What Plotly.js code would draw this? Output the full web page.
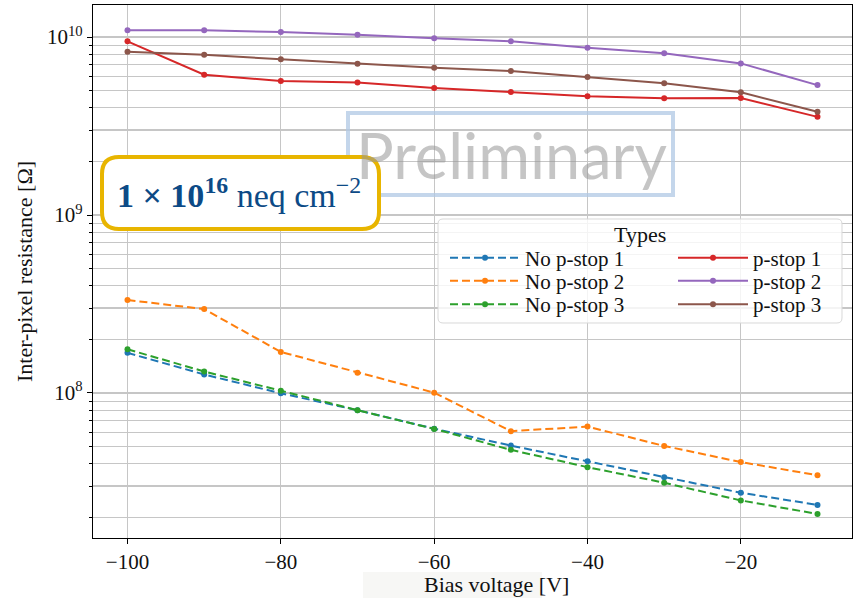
<!DOCTYPE html>
<html>
<head>
<meta charset="utf-8">
<script src="https://cdn.plot.ly/plotly-3.0.1.min.js"></script>
<style>html,body{margin:0;padding:0;background:#fff;}#chart{width:855px;height:598px;}</style>
</head>
<body>
<div id="chart"></div>
<script>
// ---- data ----
const biasVoltage = [-100, -90, -80, -70, -60, -50, -40, -30, -20, -10];
const noPstop1 = [1.68e8, 1.27e8, 9.96e7, 8.0e7, 6.3e7, 5.06e7, 4.13e7, 3.36e7, 2.75e7, 2.35e7];
const noPstop2 = [3.33e8, 2.96e8, 1.70e8, 1.30e8, 1.004e8, 6.1e7, 6.47e7, 5.04e7, 4.09e7, 3.45e7];
const noPstop3 = [1.76e8, 1.32e8, 1.03e8, 8.0e7, 6.28e7, 4.79e7, 3.83e7, 3.13e7, 2.49e7, 2.09e7];
const pstop1 = [9.46e9, 6.14e9, 5.66e9, 5.56e9, 5.17e9, 4.91e9, 4.65e9, 4.53e9, 4.54e9, 3.56e9];
const pstop2 = [1.09e10, 1.09e10, 1.067e10, 1.03e10, 9.83e9, 9.46e9, 8.71e9, 8.1e9, 7.11e9, 5.37e9];
const pstop3 = [8.27e9, 7.96e9, 7.49e9, 7.08e9, 6.72e9, 6.44e9, 5.96e9, 5.5e9, 4.89e9, 3.8e9];
const xTickVals = [-100, -80, -60, -40, -20];
const xTickLabels = ['\u2212100', '\u221280', '\u221260', '\u221240', '\u221220'];
const yTickVals = [1e8, 1e9, 1e10];
const yTickLabels = ['10<sup>8</sup>', '10<sup>9</sup>', '10<sup>10</sup>'];
const seriesNames = ['No p-stop 1', 'No p-stop 2', 'No p-stop 3', 'p-stop 1', 'p-stop 2', 'p-stop 3'];
const seriesColors = ['#1f77b4', '#ff7f0e', '#2ca02c', '#d62728', '#9467bd', '#8c564b'];
const seriesValues = [noPstop1, noPstop2, noPstop3, pstop1, pstop2, pstop3];

// ---- geometry helpers (pixel -> paper) ----
const L = 93, R = 852, T = 5, B = 538;
const W = R - L, H = B - T;
const px = x => (x - L) / W;
const py = y => 1 - (y - T) / H;
function roundRect(x0, y0, x1, y1, r) {
  const P = (x, y) => px(x).toFixed(5) + ',' + py(y).toFixed(5);
  return 'M' + P(x0 + r, y0) + ' L' + P(x1 - r, y0) + ' Q' + P(x1, y0) + ' ' + P(x1, y0 + r) +
    ' L' + P(x1, y1 - r) + ' Q' + P(x1, y1) + ' ' + P(x1 - r, y1) +
    ' L' + P(x0 + r, y1) + ' Q' + P(x0, y1) + ' ' + P(x0, y1 - r) +
    ' L' + P(x0, y0 + r) + ' Q' + P(x0, y0) + ' ' + P(x0 + r, y0) + ' Z';
}

const serif = 'Liberation Serif, Times New Roman, serif';
const legendKeys = ['legend', 'legend2', 'legend3', 'legend4', 'legend5', 'legend6'];
const legendRowY = [258, 281, 304.5];
const legendColX = [445, 673];

const traces = seriesValues.map((vals, i) => ({
  type: 'scatter', mode: 'lines+markers',
  x: biasVoltage, y: vals, name: seriesNames[i],
  line: {color: seriesColors[i], width: 2, dash: i < 3 ? '8px,4px' : 'solid'},
  marker: {color: seriesColors[i], size: 6},
  legend: legendKeys[i]
}));

const legendCommon = {
  bgcolor: 'rgba(0,0,0,0)', borderwidth: 0, itemwidth: 70,
  font: {family: serif, size: 21, color: '#111'},
  xanchor: 'left', yanchor: 'middle'
};

const layout = {
  width: 855, height: 598,
  margin: {l: L, r: 855 - R, t: T, b: 598 - B},
  paper_bgcolor: '#fff', plot_bgcolor: '#fff',
  font: {family: serif, size: 18, color: '#111'},
  xaxis: {
    range: [-104.5, -5.5], tickmode: 'array', tickvals: xTickVals, ticktext: xTickLabels,
    showgrid: true, gridcolor: '#c6c6c6', gridwidth: 1.2, zeroline: false,
    showline: true, mirror: true, linecolor: '#000', linewidth: 1.2,
    ticks: 'outside', ticklen: 5, tickcolor: '#000',
    tickfont: {family: serif, size: 21}
  },
  yaxis: {
    type: 'log', range: [7.185, 10.18], tickmode: 'array', tickvals: yTickVals, ticktext: yTickLabels,
    showgrid: true, gridcolor: '#c6c6c6', gridwidth: 1.2, zeroline: false,
    showline: true, mirror: true, linecolor: '#000', linewidth: 1.2,
    ticks: 'outside', ticklen: 5, tickcolor: '#000',
    tickfont: {family: serif, size: 21},
    minor: {dtick: 'D1', ticks: 'outside', ticklen: 3, tickcolor: '#000', showgrid: true, gridcolor: '#c6c6c6', gridwidth: 1.2},
    title: {text: 'Inter-pixel resistance [\u03A9]', font: {family: serif, size: 22}, standoff: 8}
  },
  showlegend: true,
  shapes: [
    {type: 'rect', xref: 'paper', yref: 'paper', x0: px(348), x1: px(673), y0: py(113), y1: py(195),
      line: {color: 'rgba(176,200,228,0.75)', width: 4}, fillcolor: 'rgba(0,0,0,0)', layer: 'above'},
    {type: 'path', xref: 'paper', yref: 'paper', path: roundRect(102, 157, 379, 229, 17),
      line: {color: '#e8b500', width: 4}, fillcolor: '#ffffff', layer: 'above'},
    {type: 'path', xref: 'paper', yref: 'paper', path: roundRect(438, 219, 842, 323, 5),
      line: {color: '#d8d8d8', width: 1}, fillcolor: 'rgba(255,255,255,0.8)', layer: 'above'},
    {type: 'rect', xref: 'paper', yref: 'paper', x0: px(363), x1: px(542), y0: py(598), y1: py(572),
      line: {width: 0}, fillcolor: '#f7f7f5', layer: 'below'}
  ],
  annotations: [
    {xref: 'paper', yref: 'paper', x: px(511), y: py(154), xanchor: 'center', yanchor: 'middle',
      text: 'Preliminary', showarrow: false,
      font: {family: 'Lato, Open Sans, sans-serif', size: 63, color: 'rgba(150,150,150,0.55)'}},
    {xref: 'paper', yref: 'paper', x: px(239), y: py(193), xanchor: 'center', yanchor: 'middle',
      text: '<b>1 \u00D7 10<sup>16</sup></b> neq cm<sup>\u22122</sup>', showarrow: false,
      font: {family: serif, size: 34, color: '#0c4a86'}},
    {xref: 'paper', yref: 'paper', x: px(640), y: py(235), xanchor: 'center', yanchor: 'middle',
      text: 'Types', showarrow: false, font: {family: serif, size: 22, color: '#111'}},
    {xref: 'paper', yref: 'paper', x: px(497), y: py(584), xanchor: 'center', yanchor: 'middle',
      text: 'Bias voltage [V]', showarrow: false, font: {family: serif, size: 22, color: '#111'}}
  ]
};
legendKeys.forEach((k, i) => {
  layout[k] = Object.assign({}, legendCommon, {x: px(legendColX[Math.floor(i / 3)]), y: py(legendRowY[i % 3])});
});

Plotly.newPlot('chart', traces, layout, {displayModeBar: false, staticPlot: true});
</script>
</body>
</html>
